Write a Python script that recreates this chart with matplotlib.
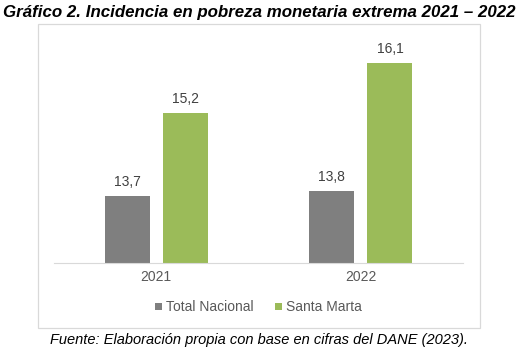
import matplotlib.pyplot as plt
from matplotlib.patches import Rectangle
import numpy as np

plt.rcParams['font.family'] = ['Liberation Sans', 'DejaVu Sans']

years = ['2021', '2022']
total_nacional = [13.7, 13.8]
santa_marta = [15.2, 16.1]
series_names = ['Total Nacional', 'Santa Marta']

W, H = 518, 352
fig = plt.figure(figsize=(W / 100, H / 100), dpi=100)

# chart border box
fig.patches.append(Rectangle((38 / W, 24 / H), 442 / W, 304 / H, transform=fig.transFigure,
                             fill=False, edgecolor='#d9d9d9', linewidth=0.9))

ax = fig.add_axes([54 / W, 89 / H, 409 / W, 247 / H])
x = np.arange(len(years))
bw = 0.22
off = 0.143
b1 = ax.bar(x - off, total_nacional, bw, color='#7f7f7f', label=series_names[0])
b2 = ax.bar(x + off, santa_marta, bw, color='#9bbb59', label=series_names[1])

for bars in (b1, b2):
    for r in bars:
        v = r.get_height()
        ax.text(r.get_x() + r.get_width() / 2, v + 0.13, f'{v:.1f}'.replace('.', ','),
                ha='center', va='bottom', fontsize=10, color='#404040')

ax.set_ylim(12.5, 16.95)
ax.set_xlim(-0.5, 1.5)
ax.set_xticks(x)
ax.set_xticklabels(years, fontsize=10, color='#595959')
ax.tick_params(axis='x', length=0, pad=5)
ax.set_yticks([])
for s in ['top', 'right', 'left']:
    ax.spines[s].set_visible(False)
ax.spines['bottom'].set_color('#d9d9d9')

ax.legend(loc='center', bbox_to_anchor=(0.5, -0.18), ncol=2, frameon=False,
          fontsize=10, handlelength=0.5, handleheight=0.5, handletextpad=0.25,
          columnspacing=1.6, labelcolor='#595959')

fig.text(0.5, 1 - 13 / H, 'Gráfico 2. Incidencia en pobreza monetaria extrema 2021 – 2022',
         ha='center', va='center', fontsize=12.2, fontweight='bold', style='italic',
         color='black')
fig.text(0.5, 1 - 340 / H, 'Fuente: Elaboración propia con base en cifras del DANE (2023).',
         ha='center', va='center', fontsize=10.5, style='italic')

fig.savefig('out.png', dpi=100)
